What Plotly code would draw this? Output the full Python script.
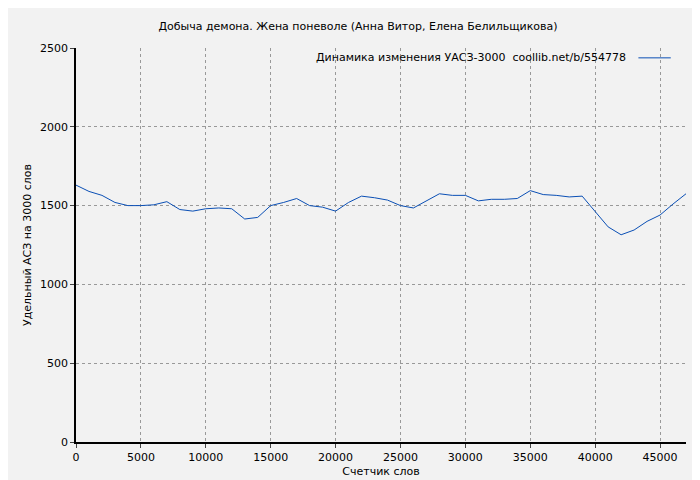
import plotly.graph_objects as go

words = list(range(0, 48000, 1000))
values = [1630, 1590, 1565, 1520, 1500, 1500, 1505, 1525, 1475, 1465,
          1480, 1485, 1480, 1415, 1425, 1500, 1520, 1545, 1500, 1490,
          1465, 1520, 1560, 1550, 1535, 1500, 1485, 1530, 1575, 1565,
          1565, 1530, 1540, 1540, 1545, 1595, 1570, 1565, 1555, 1560,
          1465, 1365, 1315, 1345, 1400, 1440, 1510, 1575]
legend_text = "Динамика изменения УАСЗ-3000  coollib.net/b/554778"

fig = go.Figure(go.Scatter(x=words, y=values, mode="lines",
                           line=dict(color="#0a4fb5", width=1), showlegend=False))
font = dict(family="DejaVu Sans", size=11, color="#000")
ax = dict(showline=True, linecolor="#000", linewidth=1.5, ticks="outside", ticklen=4,
          gridcolor="#999", griddash="dot", gridwidth=1, zeroline=False, mirror=False,
          tickfont=font, title_font=font, automargin=False, tickformat="d")
fig.update_layout(
    width=700, height=480, paper_bgcolor="#f2f2f2", plot_bgcolor="#f2f2f2",
    margin=dict(l=68, r=22, t=40, b=46), font=font,
    title=dict(text="Добыча демона. Жена поневоле (Анна Витор, Елена Белильщикова)",
               x=0.5, y=1 - 18 / 480, xanchor="center", yanchor="middle", font=font),
    xaxis=dict(ax, range=[0, 47000], dtick=5000, title=dict(text="Счетчик слов", standoff=4)),
    yaxis=dict(ax, range=[0, 2500], dtick=500, title=dict(text="Удельный АСЗ на 3000 слов", standoff=6)),
    annotations=[dict(text=legend_text, xref="paper", yref="paper", x=0.905, y=0.975,
                      xanchor="right", yanchor="middle", showarrow=False, font=font)],
    shapes=[dict(type="line", xref="paper", yref="paper", x0=0.922, x1=0.975,
                 y0=0.975, y1=0.975, line=dict(color="#0a4fb5", width=1))],
)
fig.write_html("out.html")
